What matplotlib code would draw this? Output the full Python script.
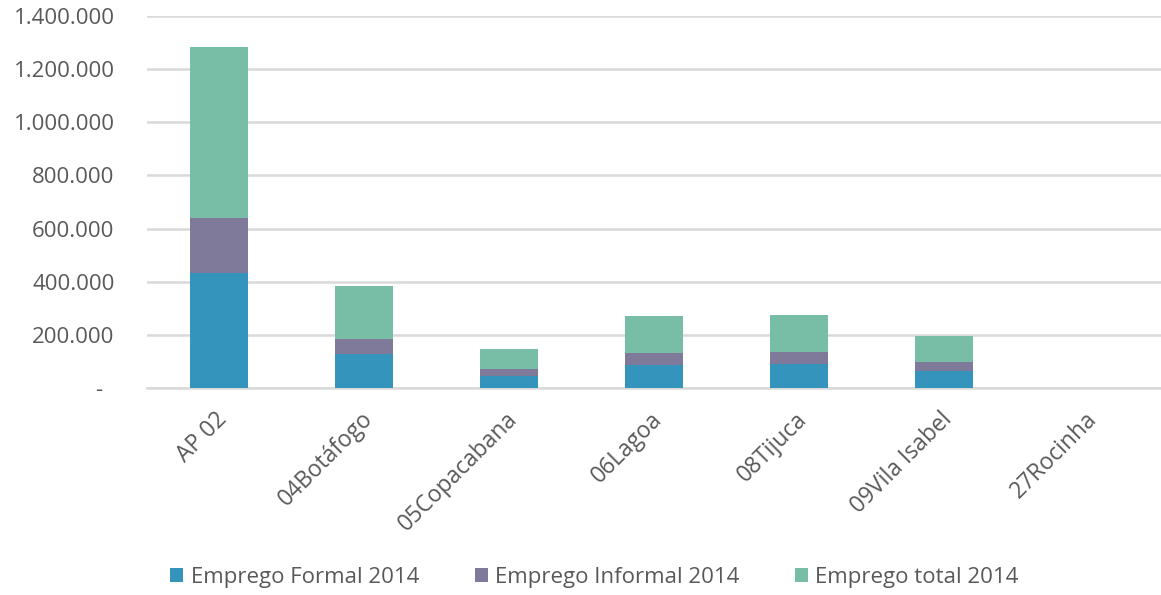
import matplotlib.pyplot as plt
import matplotlib.transforms as mtransforms
import numpy as np

# regiões e valores de emprego (2014)
regioes = ['AP 02', '04Botáfogo', '05Copacabana', '06Lagoa', '08Tijuca', '09Vila Isabel', '27Rocinha']
formal = [433000, 126000, 46000, 88000, 91000, 62000, 0]
informal = [208000, 59000, 27000, 43000, 45000, 34000, 0]
total = [643000, 198000, 74000, 138000, 138000, 101000, 0]

cor_formal = '#3594BC'
cor_informal = '#7F7A99'
cor_total = '#78BEA6'
cinza = '#595959'

plt.rcParams['font.family'] = ['Open Sans', 'DejaVu Sans']

fig = plt.figure(figsize=(11.61, 5.95), dpi=100)
ax = fig.add_axes([0.1262, 0.348, 0.874, 0.625])

x = np.arange(len(regioes))
largura = 0.4
formal = np.array(formal)
informal = np.array(informal)
total = np.array(total)

ax.bar(x, formal, largura, color=cor_formal, label='Emprego Formal 2014', zorder=3)
ax.bar(x, informal, largura, bottom=formal, color=cor_informal, label='Emprego Informal 2014', zorder=3)
ax.bar(x, total, largura, bottom=formal + informal, color=cor_total, label='Emprego total 2014', zorder=3)

ax.set_xlim(-0.5, len(regioes) - 0.5)
ax.set_ylim(0, 1400000)

# eixo y no formato brasileiro
yticks = np.arange(0, 1400001, 200000)
ax.set_yticks(yticks)
ax.set_yticklabels(['-  '] + [f'{int(v):,}'.replace(',', '.') for v in yticks[1:]],
                   fontsize=16, color=cinza)
ax.yaxis.grid(True, color='#D9D9D9', linewidth=1.8, zorder=0)
ax.tick_params(axis='y', length=0, pad=23)

ax.set_xticks(x)
ax.set_xticklabels(regioes, rotation=45, ha='right', va='center', rotation_mode='anchor',
                   fontsize=16.5, color=cinza)
ax.tick_params(axis='x', length=0, pad=20)
desloc = mtransforms.ScaledTranslation(5 / 100, 0, fig.dpi_scale_trans)
for lbl in ax.get_xticklabels():
    lbl.set_transform(lbl.get_transform() + desloc)

for s in ['top', 'right', 'left']:
    ax.spines[s].set_visible(False)
ax.spines['bottom'].set_color('#D9D9D9')
ax.spines['bottom'].set_linewidth(1.8)

leg = fig.legend(loc='center', bbox_to_anchor=(0.512, 0.029), ncol=3, frameon=False,
                 fontsize=16, handlelength=0.6, handleheight=0.6, handletextpad=0.32,
                 columnspacing=2.5)
for t in leg.get_texts():
    t.set_color(cinza)

fig.savefig('out.png', dpi=100)
